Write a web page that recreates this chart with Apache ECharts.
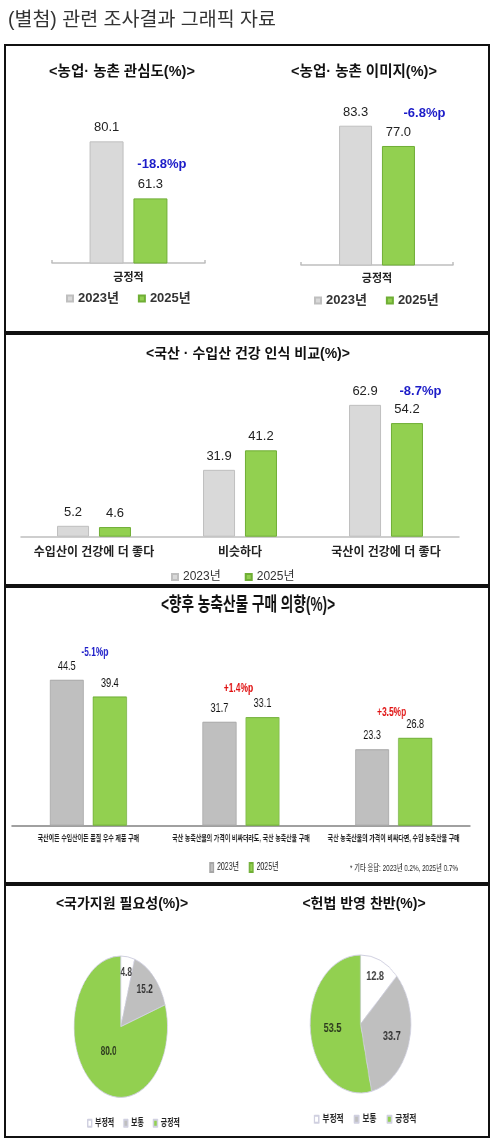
<!DOCTYPE html>
<html><head><meta charset="utf-8">
<script src="https://cdn.jsdelivr.net/npm/echarts@6/dist/echarts.min.js"></script>
<style>
html,body{margin:0;padding:0;background:#fff;}
#wrap{position:relative;width:496px;height:1144px;overflow:hidden;background:#fff;}
#main{position:absolute;left:0;top:0;width:496px;height:1144px;}
#sec3{position:absolute;left:0;top:585px;width:709px;height:298px;transform:scaleX(0.7);transform-origin:0 0;}
#pie1{position:absolute;left:0;top:935px;width:376px;height:200px;transform:scaleX(0.66);transform-origin:0 0;}
#pie2{position:absolute;left:248px;top:935px;width:340px;height:200px;transform:scaleX(0.73);transform-origin:0 0;}
</style></head>
<body>
<div id="wrap">
<div id="main"></div>
<div id="sec3"></div>
<div id="pie1"></div>
<div id="pie2"></div>
</div>
<script>
// ---------- data ----------
const pageTitle = '(별첨) 관련 조사결과 그래픽 자료';
const years = ['2023년', '2025년'];

const interestTitle = '<농업· 농촌 관심도(%)>';
const imageTitle = '<농업· 농촌 이미지(%)>';
const attitudeCategories = ['긍정적'];
const interest2023 = [80.1];
const interest2025 = [61.3];
const interestDiff = ['-18.8%p'];
const image2023 = [83.3];
const image2025 = [77.0];
const imageDiff = ['-6.8%p'];

const healthTitle = '<국산 · 수입산 건강 인식 비교(%)>';
const healthCategories = ['수입산이 건강에 더 좋다', '비슷하다', '국산이 건강에 더 좋다'];
const health2023 = [5.2, 31.9, 62.9];
const health2025 = [4.6, 41.2, 54.2];
const healthDiff = [null, null, '-8.7%p'];

const purchaseTitle = '<향후 농축산물 구매 의향(%)>';
const purchaseCategories = ['국산이든 수입산이든 품질 우수 제품 구매', '국산 농축산물의 가격이 비싸더라도, 국산 농축산물 구매', '국산 농축산물의 가격이 비싸다면, 수입 농축산물 구매'];
const purchase2023 = [44.5, 31.7, 23.3];
const purchase2025 = [39.4, 33.1, 26.8];
const purchaseDiff = ['-5.1%p', '+1.4%p', '+3.5%p'];
const purchaseNote = '* 기타 응답: 2023년 0.2%, 2025년 0.7%';

const pieNames = ['부정적', '보통', '긍정적'];
const supportTitle = '<국가지원 필요성(%)>';
const supportNeed = [4.8, 15.2, 80.0];
const constitutionTitle = '<헌법 반영 찬반(%)>';
const constitutionView = [12.8, 33.7, 53.5];

// ---------- styles ----------
const FONT = "'Liberation Sans', Arial, 'Noto Sans CJK KR', sans-serif";
const NARROW = "'Liberation Sans Narrow', 'Arial Narrow', 'Liberation Sans', 'Noto Sans CJK KR', sans-serif";
const GRAY = '#d9d9d9', GRAY_B = '#bfbfbf';
const GRAY3 = '#bfbfbf', GRAY3_B = '#a6a6a6';
const GREEN = '#92d050', GREEN_B = '#6fae35';
const BLUE = '#1c1cc8', RED = '#e01010';
const fmt1 = p => Number(p.value).toFixed(1);

function bar(name, data, idx, color, border, width, gap, labelFont, labelSize) {
  return {
    type: 'bar', name: name, data: data, xAxisIndex: idx, yAxisIndex: idx,
    barWidth: width, barGap: gap,
    itemStyle: { color: color, borderColor: border, borderWidth: 1 },
    label: { show: true, position: 'top', distance: 7, formatter: fmt1,
      fontSize: labelSize, fontFamily: labelFont, color: '#222' },
    emphasis: { disabled: true }
  };
}
// difference notes, anchored in data space next to the 2025 bar
function diffMarks(cats, diffs, yPos, dx, font, size) {
  const data = [];
  diffs.forEach((d, i) => {
    if (!d) return;
    data.push({ name: d, coord: [cats[i], yPos[i]],
      label: { offset: [dx[i], 0], color: d.charAt(0) === '+' ? RED : BLUE } });
  });
  return {
    symbol: 'rect', symbolSize: 1, itemStyle: { color: 'rgba(0,0,0,0)' },
    label: { show: true, position: 'inside', formatter: '{b}', fontSize: size,
      fontWeight: 'bold', fontFamily: font },
    data: data
  };
}
function boxRect(y, h) {
  return { type: 'rect', z: 100, shape: { x: 5, y: y, width: 484, height: h },
    style: { fill: 'none', stroke: '#111', lineWidth: 2 } };
}
function titleText(x, y, text, size) {
  return { type: 'text', x: x, y: y, z: 100,
    style: { text: text, align: 'center', verticalAlign: 'middle', fontSize: size,
      fontWeight: 'bold', fontFamily: FONT, fill: '#111' } };
}

// ---------- main chart ----------
const main = echarts.init(document.getElementById('main'));
const s1Axis = {
  axisLine: { lineStyle: { color: '#bfbfbf', width: 1.5 } },
  axisTick: { show: true, inside: true, length: 3, lineStyle: { color: '#bfbfbf', width: 1.5 } },
};
const interestSeriesG = bar(years[1], interest2025, 0, GREEN, GREEN_B, 34, '29%', FONT, 13);
interestSeriesG.markPoint = diffMarks(attitudeCategories, interestDiff, [72.6], [11.5], FONT, 13);
const imageSeriesG = bar(years[1], image2025, 1, GREEN, GREEN_B, 33, '30%', FONT, 13);
imageSeriesG.markPoint = diffMarks(attitudeCategories, imageDiff, [87.2], [26], FONT, 13);
const healthSeriesG = bar(years[1], health2025, 2, GREEN, GREEN_B, 32, '31%', FONT, 13);
healthSeriesG.markPoint = diffMarks(healthCategories, healthDiff, [null, null, 69.5], [0, 0, 13.5], FONT, 13);

main.setOption({
  animation: false,
  backgroundColor: 'transparent',
  graphic: [
    { type: 'text', x: 8, y: 21, style: { text: pageTitle, align: 'left', verticalAlign: 'middle',
      fontSize: 19.5, fontFamily: FONT, fill: '#333' } },
    boxRect(45, 287), boxRect(334, 251), boxRect(587, 296), boxRect(885, 252),
    titleText(122, 72, interestTitle, 14.5),
    titleText(364, 72, imageTitle, 14.5),
    titleText(248, 354, healthTitle, 14),
    titleText(122, 904, supportTitle, 14),
    titleText(364, 904, constitutionTitle, 14)
  ],
  grid: [
    { left: 52, top: 81, width: 153, height: 182, outerBoundsMode: 'none' },
    { left: 301, top: 72, width: 152, height: 193, outerBoundsMode: 'none' },
    { left: 21, top: 369, width: 438, height: 167.7, outerBoundsMode: 'none' }
  ],
  xAxis: [
    Object.assign({ type: 'category', gridIndex: 0, data: attitudeCategories,
      axisLabel: { fontSize: 11, fontWeight: 'bold', color: '#222', margin: 9, fontFamily: FONT } }, s1Axis),
    Object.assign({ type: 'category', gridIndex: 1, data: attitudeCategories,
      axisLabel: { fontSize: 11, fontWeight: 'bold', color: '#222', margin: 8, fontFamily: FONT } }, s1Axis),
    { type: 'category', gridIndex: 2, data: healthCategories,
      axisLine: { lineStyle: { color: '#bfbfbf', width: 1.5 } }, axisTick: { show: false },
      axisLabel: { interval: 0, fontSize: 12, fontWeight: 'bold', color: '#222', margin: 10, fontFamily: FONT } }
  ],
  yAxis: [
    { type: 'value', gridIndex: 0, min: 40, max: 100, show: false },
    { type: 'value', gridIndex: 1, min: 40, max: 100, show: false },
    { type: 'value', gridIndex: 2, min: 0, max: 80, show: false }
  ],
  legend: [
    { data: years, left: 61, top: 287, itemWidth: 6, itemHeight: 6, itemGap: 19, icon: 'rect',
      textStyle: { fontSize: 13, fontWeight: 'bold', color: '#333', fontFamily: FONT }, selectedMode: false },
    { data: years, left: 309, top: 289, itemWidth: 6, itemHeight: 6, itemGap: 19, icon: 'rect',
      textStyle: { fontSize: 13, fontWeight: 'bold', color: '#333', fontFamily: FONT }, selectedMode: false },
    { data: years, left: 166, top: 566, itemWidth: 6, itemHeight: 6, itemGap: 24, icon: 'rect',
      textStyle: { fontSize: 12, color: '#333', fontFamily: FONT }, selectedMode: false }
  ],
  series: [
    bar(years[0], interest2023, 0, GRAY, GRAY_B, 34, '29%', FONT, 13), interestSeriesG,
    bar(years[0], image2023, 1, GRAY, GRAY_B, 33, '30%', FONT, 13), imageSeriesG,
    bar(years[0], health2023, 2, GRAY, GRAY_B, 32, '31%', FONT, 13), healthSeriesG
  ]
});

// ---------- section 3 (horizontally condensed like the original) ----------
const sec3 = echarts.init(document.getElementById('sec3'));
const p25 = bar(years[1], purchase2025, 0, GREEN, GREEN_B, 48.6, '26.5%', NARROW, 13);
p25.label.color = '#111';
p25.markPoint = diffMarks(purchaseCategories, purchaseDiff, [52.65, 41.7, 34.4], [-21.4, -34.3, -33.6], NARROW, 12);
const p23 = bar(years[0], purchase2023, 0, GRAY3, GRAY3_B, 48.6, '26.5%', NARROW, 13);
p23.label.color = '#111';
sec3.setOption({
  animation: false,
  backgroundColor: 'transparent',
  graphic: [
    titleText(354.3, 21, purchaseTitle, 19.5),
    { type: 'text', x: 500, y: 284, style: { text: purchaseNote, align: 'left', verticalAlign: 'middle',
      fontSize: 9, fontFamily: NARROW, fill: '#222' } }
  ],
  grid: { left: 17.1, top: 43.9, width: 654.3, height: 196.8, outerBoundsMode: 'none' },
  xAxis: { type: 'category', data: purchaseCategories,
    axisLine: { lineStyle: { color: '#a0a0a0', width: 2 } }, axisTick: { show: false },
    axisLabel: { interval: 0, fontSize: 8.5, fontWeight: 'bold', color: '#222', margin: 9, fontFamily: FONT } },
  yAxis: { type: 'value', min: 0, max: 60, show: false },
  legend: { data: years, left: 294, top: 272, itemWidth: 5, itemHeight: 9, itemGap: 14, icon: 'rect',
    textStyle: { fontSize: 10, color: '#222', fontFamily: NARROW }, selectedMode: false },
  series: [p23, p25]
});

// ---------- pies (elliptical like the original) ----------
function pieOption(values, cx, cy, r, legendLeft, legendTop, gap) {
  const total = values.reduce((a, b) => a + b, 0);
  let acc = 0;
  // value labels placed through a polar system sharing the pie's centre/radius
  const labelPts = values.map(v => {
    const mid = acc + v / 2; acc += v;
    return [0.8 - 0.45 * v / total, mid, v];
  });
  return {
    animation: false,
    backgroundColor: 'transparent',
    color: ['#ffffff', '#bfbfbf', GREEN],
    legend: { data: pieNames, left: legendLeft, top: legendTop, itemWidth: 6, itemHeight: 7, itemGap: gap,
      icon: 'rect', selectedMode: false,
      textStyle: { fontSize: 10.5, fontWeight: 'bold', color: '#222', fontFamily: FONT } },
    polar: { center: [cx, cy], radius: r },
    angleAxis: { type: 'value', min: 0, max: total, startAngle: 90, clockwise: true,
      axisLine: { show: false }, axisTick: { show: false }, axisLabel: { show: false }, splitLine: { show: false } },
    radiusAxis: { type: 'value', min: 0, max: 1,
      axisLine: { show: false }, axisTick: { show: false }, axisLabel: { show: false }, splitLine: { show: false } },
    series: [{
      type: 'pie', center: [cx, cy], radius: r, startAngle: 90, clockwise: true,
      avoidLabelOverlap: false,
      data: pieNames.map((n, i) => ({ name: n, value: values[i] })),
      itemStyle: { borderColor: '#d0d0e0', borderWidth: 1 },
      label: { show: false }, labelLine: { show: false },
      emphasis: { disabled: true }
    }, {
      type: 'scatter', coordinateSystem: 'polar', data: labelPts, symbolSize: 1, silent: true,
      itemStyle: { color: 'rgba(0,0,0,0)' }, z: 10,
      label: { show: true, position: 'inside', formatter: p => p.value[2].toFixed(1),
        fontSize: 12.5, fontWeight: 'bold', color: '#111', fontFamily: FONT },
      emphasis: { disabled: true }
    }]
  };
}
echarts.init(document.getElementById('pie1')).setOption(pieOption(supportNeed, 182.9, 91.7, 70.7, 127, 178, 13.6));
echarts.init(document.getElementById('pie2')).setOption(pieOption(constitutionView, 154.1, 89, 69, 85, 174, 13.7));
</script>
</body></html>
